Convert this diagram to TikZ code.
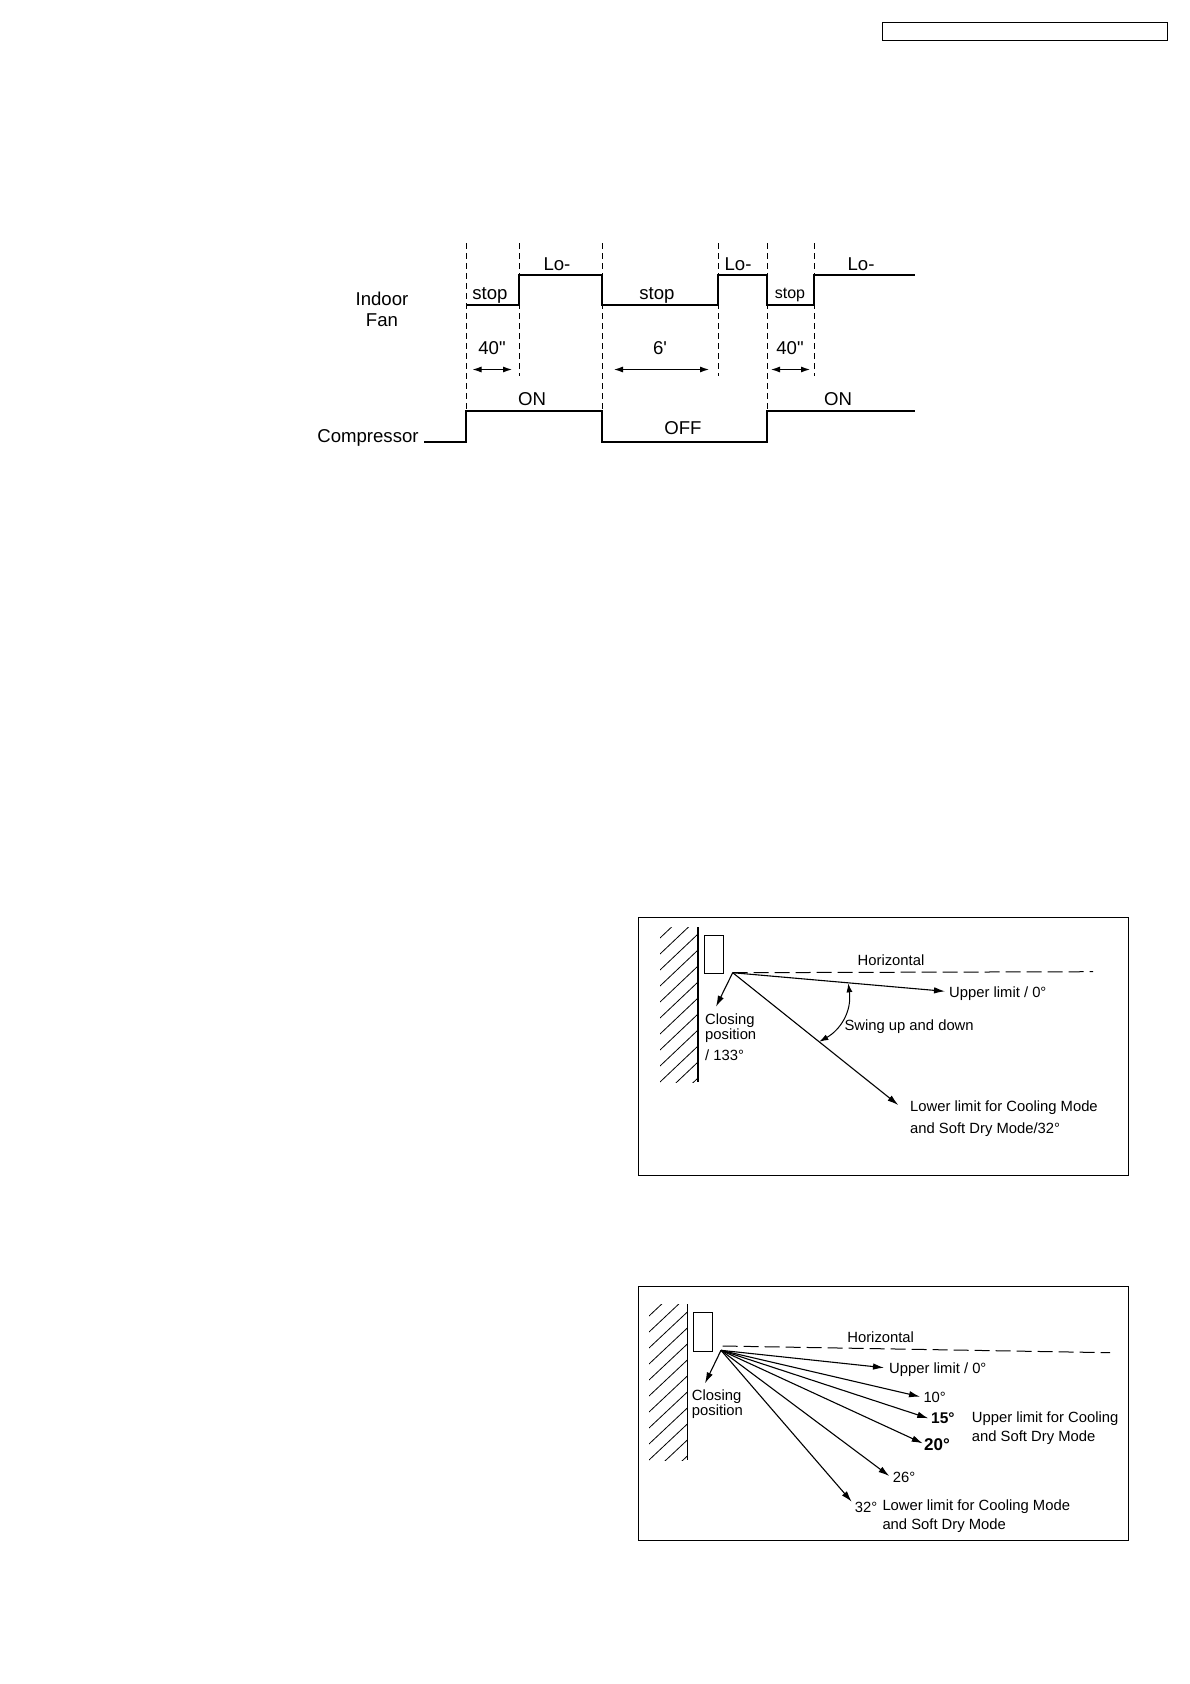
\documentclass[tikz,border=0pt]{standalone}
\usepackage{fontspec}
\setmainfont{Liberation Sans}
\newfontfamily\primefont{Liberation Sans}
\usepackage{tikz}
\usetikzlibrary{arrows.meta}
\tikzset{
  signal/.style={line width=2pt},
  guide/.style={line width=0.9pt, dash pattern=on 6pt off 4pt},
  span/.style={line width=1pt, {Latex[length=9pt,width=6pt]}-{Latex[length=9pt,width=6pt]}},
  vane/.style={line width=1.1pt, -{Latex[length=11pt,width=6.5pt]}},
  panel/.style={line width=1pt},
  tlabel/.style={font=\fontsize{18.6}{21}\selectfont, inner sep=0pt, align=center},
  flabel/.style={font=\fontsize{14.8}{15}\selectfont, inner sep=0pt, anchor=west, align=left, yshift=-1.5pt},
}
\begin{document}
\begin{tikzpicture}[x=1pt, y=-1pt]
  \useasboundingbox (0,0) rectangle (1190,1684);
  \draw[line width=1pt] (882,22.5) rectangle (1167,40.5);

  \draw[signal] (466,305) -- (519,305) -- (519,275) -- (602,275) -- (602,305) -- (718,305)
    -- (718,275) -- (767,275) -- (767,305) -- (814,305) -- (814,275) -- (915,275);
  \draw[signal] (424,442) -- (466,442) -- (466,411) -- (602,411) -- (602,442) -- (767,442)
    -- (767,411) -- (915,411);
  \foreach \x/\ybot in {466/411,519/376,602/411,718/376,767/411,814/376} {
    \draw[guide] (\x,243) -- (\x,\ybot);
  }
  \foreach \n/\x/\y/\t in {loa/557/264/Lo-,lob/738/264/Lo-,loc/861/264/Lo-,stopa/490/295/stop,
      stopb/657/295/stop,ona/532/399/ON,offa/683/428/OFF,onb/838/399/ON,
      fan/382/309/{Indoor\\Fan},compressor/368/438/Compressor,
      tfa/492/348/{\primefont 40"},tsix/660/348/{\primefont 6'},tfb/790/348/{\primefont 40"}} {
    \node[tlabel] (\n) at (\x,\y) {\t};
  }
  \node[tlabel, font=\fontsize{16}{18}\selectfont] (stopc) at (790,294.5) {stop};
  \foreach \n/\xa/\xb in {a/472.5/512,b/614/709,c/771/810} {
    \coordinate (sp\n l) at (\xa,369.5);
    \coordinate (sp\n r) at (\xb,369.5);
    \draw[span] (sp\n l) -- (sp\n r);
  }

  \draw[panel] (638,917) rectangle (1128,1175);
  \begin{scope}
    \clip (660,927) rectangle (698,1082);
    \foreach \k in {0,...,11} {
      \draw[line width=0.8pt] (660,{938+\k*16}) -- (698,{938+\k*16-36});
    }
  \end{scope}
  \draw[line width=1.1pt] (698,927) -- (698,1082);
  \draw[panel] (704,935.3) rectangle (723.7,973.3);
  \coordinate (pivota) at (732.7,972.7);
  \coordinate (horza) at (1093,971.7);
  \coordinate (uppera) at (945,991.3);
  \coordinate (closea) at (716,1006.7);
  \coordinate (lowera) at (898.3,1105);
  \coordinate (swingu) at (848.3,983.3);
  \coordinate (swingl) at (819.3,1041.7);
  \draw[line width=1pt, dash pattern=on 15pt off 6pt] (pivota) -- (horza);
  \draw[vane] (pivota) -- (uppera);
  \draw[vane] (pivota) -- (closea);
  \draw[vane] (pivota) -- (lowera);
  \draw[span] (swingu) .. controls (852,1012) and (840,1030) .. (swingl);
  \node[flabel, anchor=center] (horizontala) at (891,958.5) {Horizontal};
  \node[flabel] (upperlabela) at (949,991.7) {Upper limit / 0°};
  \node[flabel] (closelabela) at (705,1036) {Closing\\[-0.3pt]position\\[6pt]/ 133°};
  \node[flabel] (swinglabel) at (844.3,1025) {Swing up and down};
  \node[flabel] (lowerlabela) at (910,1117.5) {Lower limit for Cooling Mode\\[7pt]and Soft Dry Mode/32°};

  \draw[panel] (638,1286) rectangle (1128,1540);
  \begin{scope}
    \clip (649,1304) rectangle (687.3,1460);
    \foreach \k in {0,...,11} {
      \draw[line width=0.8pt] (649,{1316+\k*16}) -- (687.3,{1316+\k*16-36});
    }
  \end{scope}
  \draw[line width=1.1pt] (687.3,1304) -- (687.3,1460);
  \draw[panel] (693,1312.3) rectangle (712.7,1351.3);
  \coordinate (pivotb) at (721,1350.3);
  \coordinate (horzl) at (722.7,1346);
  \coordinate (horzb) at (1110,1352.7);
  \draw[line width=1pt, dash pattern=on 15pt off 6pt] (horzl) -- (horzb);
  \foreach \n/\x/\y in {closeb/705/1383.3,upperb/884/1367.7,ten/920/1396.7,fifteen/928.3/1418.3,
      twenty/922.7/1443.3,twentysix/889.3/1476,thirtytwo/851.7/1501.7} {
    \coordinate (\n) at (\x,\y);
    \draw[vane] (pivotb) -- (\n);
  }
  \node[flabel, anchor=center] (horizontalb) at (880.7,1335.8) {Horizontal};
  \node[flabel] (upperlabelb) at (889,1368.3) {Upper limit / 0°};
  \node[flabel] (tenlabel) at (923.3,1395.7) {10°};
  \node[flabel, font=\fontsize{15.5}{16}\selectfont\bfseries] (fifteenlabel) at (931,1417) {15°};
  \node[flabel, font=\fontsize{17}{18}\selectfont\bfseries] (twentylabel) at (924,1443.3) {20°};
  \node[flabel] (upcool) at (971.7,1427) {Upper limit for Cooling\\[3.7pt]and Soft Dry Mode};
  \node[flabel] (sixlabel) at (892.7,1475.7) {26°};
  \node[flabel] (thirtylabel) at (854.7,1505.7) {32°};
  \node[flabel] (lowerlabelb) at (882.3,1514.5) {Lower limit for Cooling Mode\\[3.7pt]and Soft Dry Mode};
  \node[flabel] (closelabelb) at (691.7,1402.5) {Closing\\position};
\end{tikzpicture}
\end{document}
